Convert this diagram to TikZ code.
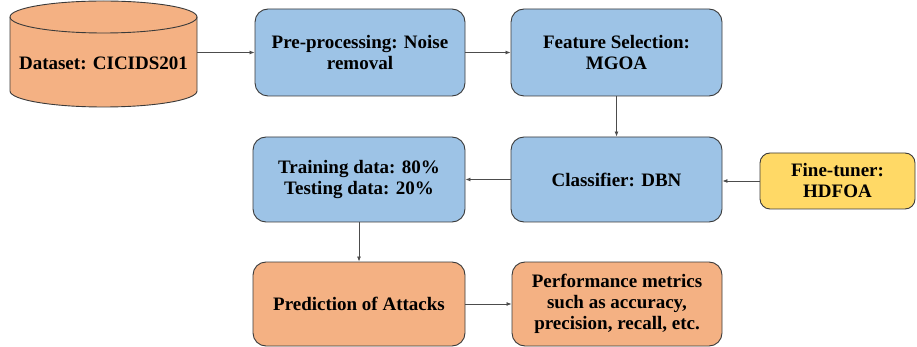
\documentclass[tikz,border=0pt]{standalone}
\usepackage{fontspec}
\setmainfont{Liberation Serif}[BoldFont={Liberation Serif Bold}]
\newfontfamily\tnr{Liberation Serif}[BoldFont={Liberation Serif Bold}]
\usetikzlibrary{arrows.meta}
\definecolor{boxblue}{HTML}{9DC3E6}
\definecolor{boxorange}{HTML}{F4B183}
\definecolor{boxyellow}{HTML}{FFD966}
\definecolor{edge}{HTML}{3A3A3A}
\tikzset{
  txt/.style={font=\tnr\bfseries\fontsize{19}{21}\selectfont},
  box/.style={draw=edge, line width=0.9pt, rounded corners=13pt, align=center,
    txt, inner sep=0pt},
  bluebox/.style={box, fill=boxblue},
  orangebox/.style={box, fill=boxorange},
  yellowbox/.style={box, fill=boxyellow},
  conn/.style={draw=black!70, line width=0.8pt, -{Latex[length=5pt,width=4pt]}}
}
\begin{document}
\begin{tikzpicture}[x=1pt,y=-1pt]
\useasboundingbox (0,0) rectangle (917,347);
% cylinder
\fill[boxorange] (10,17) -- (10,91) arc[start angle=180,end angle=0,x radius=93.5,y radius=16] -- (197,17) -- cycle;
\fill[boxorange] (103.5,17) ellipse[x radius=93.5,y radius=16];
\draw[edge, line width=0.9pt] (10,17) -- (10,91) arc[start angle=180,end angle=0,x radius=93.5,y radius=16] -- (197,17);
\draw[edge, line width=0.9pt] (103.5,17) ellipse[x radius=93.5,y radius=16];
\node[txt, minimum width=187pt, inner sep=0pt] (data) at (103.5,63) {Dataset: CICIDS201};

\node[bluebox, minimum width=210pt, minimum height=87pt] (pre) at (360,52.5) {Pre-processing: Noise\\removal};
\node[bluebox, minimum width=211pt, minimum height=87pt] (fs) at (616.5,52.5) {Feature Selection:\\MGOA};
\node[bluebox, minimum width=212pt, minimum height=85pt] (train) at (359,179.5) {Training data: 80\%\\Testing data: 20\%};
\node[bluebox, minimum width=211pt, minimum height=85pt] (cls) at (616.5,179.5) {Classifier: DBN};
\node[yellowbox, minimum width=155pt, minimum height=56pt, rounded corners=10pt] (fine) at (837.5,181) {Fine-tuner:\\HDFOA};
\node[orangebox, minimum width=212pt, minimum height=84pt] (pred) at (359,304) {Prediction of Attacks};
\node[orangebox, minimum width=210pt, minimum height=84pt] (perf) at (617,304) {Performance metrics\\such as accuracy,\\precision, recall, etc.};

\draw[conn] (data.east |- pre.west) -- (pre.west);
\draw[conn] (pre) -- (fs);
\draw[conn] (fs) -- (cls);
\draw[conn] (cls) -- (train);
\draw[conn] (fine) -- (fine.west -| cls.east);
\draw[conn] (train) -- (pred);
\draw[conn] (pred) -- (perf);
\end{tikzpicture}
\end{document}
